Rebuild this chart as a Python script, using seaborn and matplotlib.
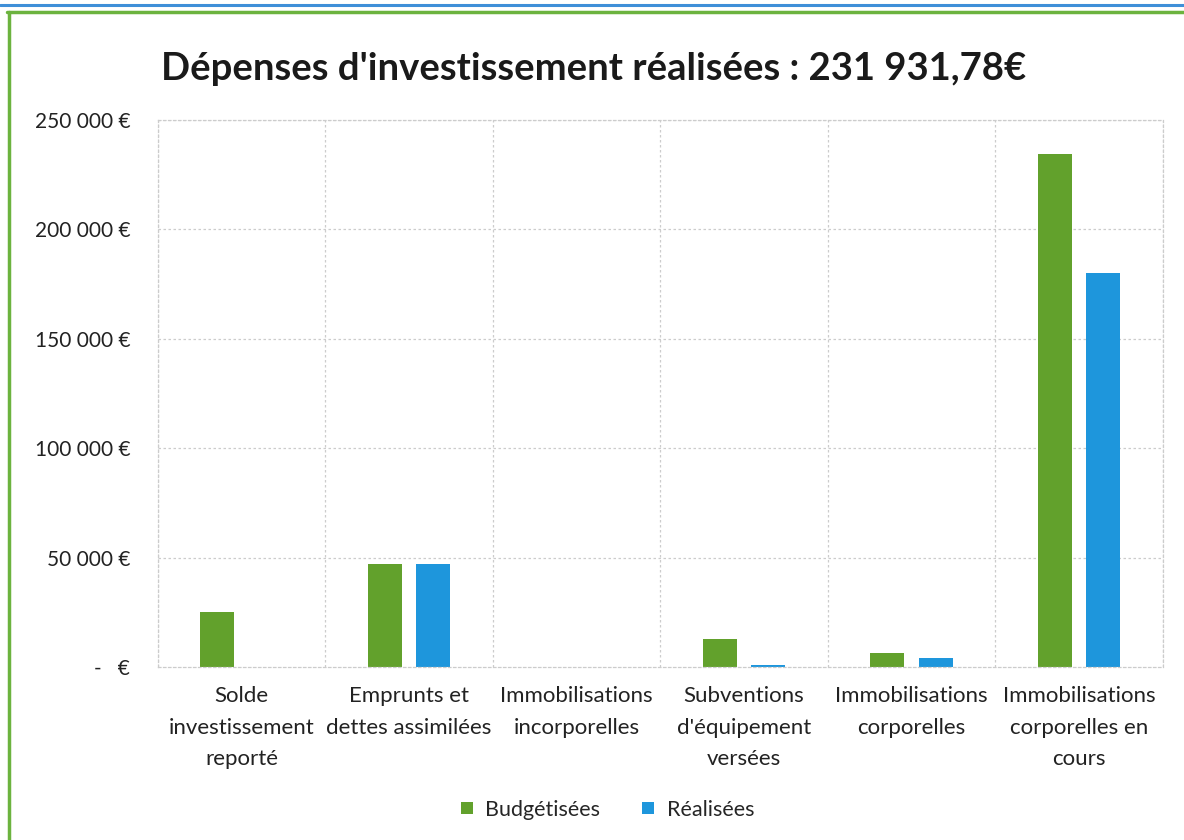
import matplotlib
matplotlib.use("Agg")
import matplotlib.pyplot as plt
import seaborn as sns
import pandas as pd
from matplotlib.lines import Line2D

categories = [
    "Solde\ninvestissement\nreporté",
    "Emprunts et\ndettes assimilées",
    "Immobilisations\nincorporelles",
    "Subventions\nd'équipement\nversées",
    "Immobilisations\ncorporelles",
    "Immobilisations\ncorporelles en\ncours",
]
budgetisees = [25300, 47100, 0, 12700, 6500, 234500]
realisees = [0, 47000, 0, 900, 3950, 180082]
series_names = ["Budgétisées", "Réalisées"]
y_ticks = [0, 50000, 100000, 150000, 200000, 250000]
y_tick_labels = ["-   €", "50 000 €", "100 000 €", "150 000 €", "200 000 €", "250 000 €"]
title = "Dépenses d'investissement réalisées : 231 931,78€"

df = pd.DataFrame({
    "cat": categories * 2,
    "val": budgetisees + realisees,
    "serie": [series_names[0]] * len(categories) + [series_names[1]] * len(categories),
})

sns.set_theme(style="white")
plt.rcParams["font.family"] = ["Lato", "DejaVu Sans"]

fig = plt.figure(figsize=(11.84, 8.4), dpi=100)
ax = fig.add_axes([0.1334, 0.206, 0.8486, 0.651])

palette = {series_names[0]: "#62a12c", series_names[1]: "#1e96dc"}
sns.barplot(data=df, x="cat", y="val", hue="serie", palette=palette,
            width=0.58, gap=0.3, ax=ax, legend=False, saturation=1,
            edgecolor=None, linewidth=0)

ax.set_ylim(0, 250000)
ax.set_xlim(-0.5, len(categories) - 0.5)
ax.set_yticks(y_ticks)
ax.set_yticklabels(y_tick_labels, fontsize=15, color="#222222")
ax.set_xticks(range(len(categories)))
ax.set_xticklabels(categories, fontsize=16, color="#222222", linespacing=1.72)
ax.tick_params(axis="x", length=0, pad=14)
ax.tick_params(axis="y", length=0, pad=20)
ax.set_xlabel("")
ax.set_ylabel("")

# grid
for y in y_ticks[1:]:
    ax.axhline(y, color="#cccccc", lw=0.9, ls=(0, (2, 2)), zorder=0)
for x in range(len(categories) + 1):
    ax.axvline(x - 0.5, color="#cccccc", lw=0.9, ls=(0, (2, 2)), zorder=0)
for s in ax.spines.values():
    s.set_color("#cccccc")
    s.set_linewidth(0.9)
    s.set_linestyle((0, (2, 2)))

fig.text(0.501, 0.918, title, ha="center", va="center",
         fontsize=27.5, fontweight="bold", color="#1a1a1a")

handles = [Line2D([0], [0], marker="s", ls="", markersize=8,
                  markerfacecolor=palette[n], markeredgewidth=0) for n in series_names]
fig.legend(handles, series_names, loc="center", bbox_to_anchor=(0.511, 0.036),
           ncol=2, frameon=False, fontsize=15.5, handletextpad=0.35,
           columnspacing=1.75, handlelength=1.0)

# scan frame lines
fig.add_artist(Line2D([0, 1], [0.994, 0.994], color="#3f8fd8", lw=2.2, transform=fig.transFigure))
fig.add_artist(Line2D([0.006, 1], [0.986, 0.986], color="#6cb33f", lw=2.5, transform=fig.transFigure))
fig.add_artist(Line2D([0.008, 0.008], [0, 0.986], color="#6cb33f", lw=2.5, transform=fig.transFigure))

fig.savefig("out.png", dpi=100)
